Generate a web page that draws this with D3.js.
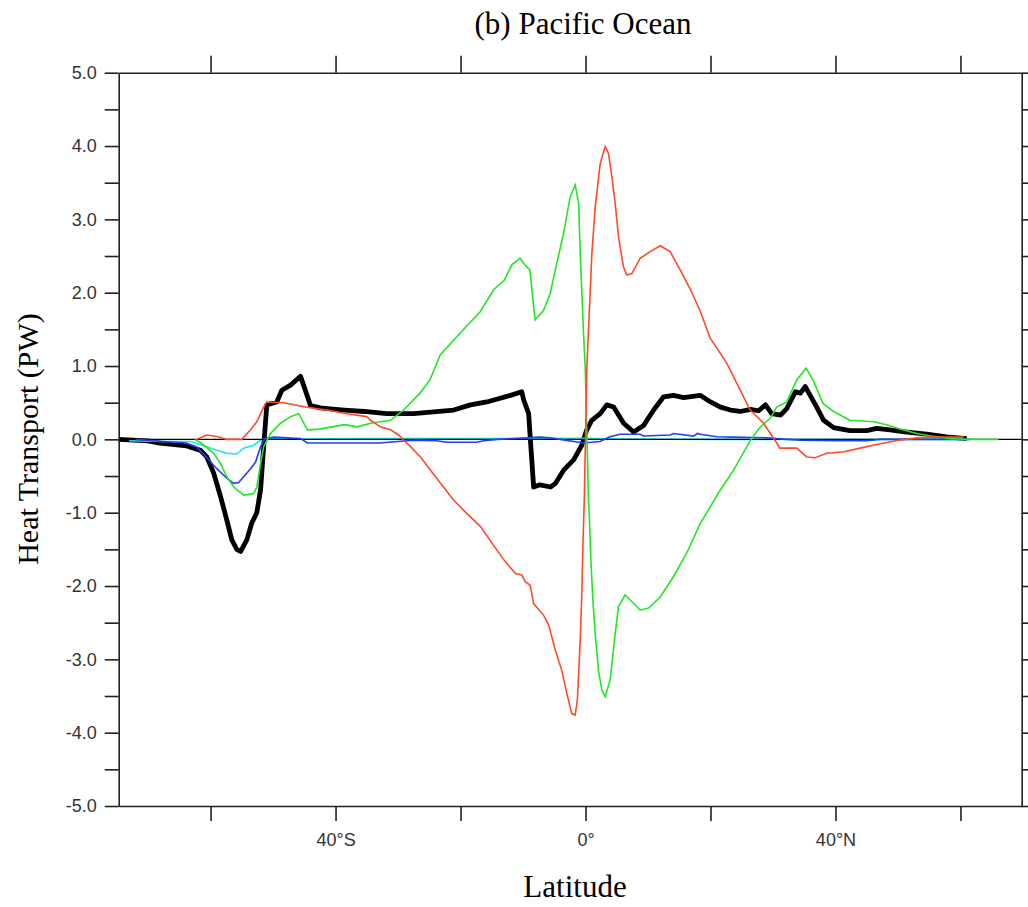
<!DOCTYPE html>
<html>
<head>
<meta charset="utf-8">
<script src="https://cdn.jsdelivr.net/npm/d3@7"></script>
<style>
  html, body { margin: 0; padding: 0; background: #fff; }
  svg { display: block; }
  .axis path, .axis line { stroke: #222; stroke-width: 1.6; }
  .axis text { font-family: "Liberation Sans", Arial, sans-serif; font-size: 18px; fill: #333; }
</style>
</head>
<body>
<svg id="chart" width="1028" height="907"></svg>
<script>
// Pacific Ocean meridional heat transport (PW) by latitude, per component.
// Each series: [latitude, transport]
const totalTransport = [
  [-74.7,0],[-70,-0.02],[-68.1,-0.05],[-63.8,-0.09],[-61.6,-0.15],[-60.6,-0.24],[-59.5,-0.46],
  [-58.4,-0.78],[-57.4,-1.10],[-56.6,-1.37],[-55.8,-1.50],[-55.2,-1.53],[-54.2,-1.37],[-53.4,-1.14],
  [-52.6,-1.0],[-52.0,-0.69],[-51.5,-0.10],[-51.0,0.47],[-49.4,0.51],[-48.6,0.67],[-47.2,0.74],
  [-45.6,0.86],[-44.0,0.46],[-42.4,0.43],[-41.3,0.42],[-38.6,0.40],[-35.4,0.38],[-31.8,0.35],
  [-27.5,0.35],[-21.1,0.40],[-18.4,0.47],[-15.8,0.51],[-12.0,0.60],[-10.2,0.65],[-9.9,0.54],
  [-9.1,0.35],[-8.85,0.03],[-8.3,-0.65],[-7.3,-0.62],[-5.6,-0.65],[-4.8,-0.60],[-3.5,-0.42],
  [-1.9,-0.28],[-0.6,-0.08],[0.2,0.13],[1.0,0.26],[2.35,0.35],[3.4,0.47],[4.5,0.44],[6.1,0.22],
  [7.7,0.10],[9.3,0.19],[10.9,0.40],[12.5,0.58],[14.1,0.60],[15.7,0.57],[18.35,0.60],[20.0,0.51],
  [21.6,0.44],[23.2,0.40],[24.75,0.38],[26.4,0.41],[27.7,0.39],[28.8,0.47],[29.8,0.35],[31.2,0.33],
  [32.2,0.42],[33.6,0.65],[34.4,0.63],[35.15,0.72],[35.95,0.60],[37.0,0.44],[38.1,0.26],[39.7,0.16],
  [42.3,0.12],[45.0,0.12],[46.6,0.15],[48.7,0.13],[51.4,0.10],[54.6,0.07],[57.8,0.035],[61.0,0.01]
];

const redTransport = [
  [-62.2,0],[-60.6,0.06],[-59.0,0.04],[-57.4,0.0],[-55.0,0.0],[-53.6,0.13],[-52.6,0.24],[-51.5,0.44],
  [-51.0,0.51],[-48.3,0.50],[-44.8,0.44],[-41.4,0.40],[-38.2,0.35],[-35.0,0.31],[-34.4,0.26],
  [-32.8,0.17],[-31.2,0.13],[-29.9,0.06],[-29.1,-0.01],[-28.0,-0.10],[-26.4,-0.24],[-24.8,-0.42],
  [-23.2,-0.60],[-21.1,-0.83],[-19.0,-1.01],[-16.8,-1.19],[-14.6,-1.46],[-13.0,-1.65],[-11.2,-1.83],
  [-10.2,-1.85],[-9.65,-1.94],[-8.85,-1.99],[-8.3,-2.24],[-6.7,-2.40],[-5.9,-2.53],[-4.85,-2.87],
  [-3.8,-3.15],[-3.0,-3.46],[-2.2,-3.74],[-1.65,-3.76],[-1.3,-3.55],[-0.85,-2.74],[-0.6,-2.15],
  [-0.42,-1.46],[-0.2,-0.83],[0.22,0.99],[1.02,2.54],[1.55,3.17],[2.35,3.76],[3.15,3.99],[3.68,3.90],
  [4.22,3.58],[4.75,3.22],[5.28,2.76],[6.08,2.35],[6.62,2.24],[7.42,2.26],[8.75,2.47],[10.35,2.56],
  [11.95,2.64],[13.55,2.56],[15.15,2.31],[16.75,2.05],[18.35,1.75],[19.95,1.38],[22.6,1.04],
  [24.75,0.67],[26.35,0.40],[28.5,0.22],[30.6,-0.05],[31.1,-0.12],[33.8,-0.12],[35.4,-0.24],
  [36.75,-0.25],[38.6,-0.19],[41.3,-0.17],[43.95,-0.12],[47.15,-0.06],[50.35,-0.01],[53.0,0.02],
  [55.7,0.03],[60.5,0.03]
];

const greenTransport = [
  [-62.5,0],[-61.5,-0.05],[-59.5,-0.19],[-58.4,-0.33],[-57.4,-0.51],[-56.3,-0.65],[-54.7,-0.76],
  [-53.1,-0.74],[-52.6,-0.65],[-52.0,-0.33],[-51.5,-0.10],[-50.4,0.08],[-48.8,0.22],[-47.2,0.31],
  [-45.9,0.35],[-44.5,0.13],[-42.6,0.14],[-40.5,0.17],[-38.6,0.20],[-36.5,0.17],[-34.4,0.22],
  [-31.2,0.26],[-29.1,0.40],[-26.5,0.63],[-24.9,0.81],[-23.25,1.15],[-20.05,1.45],[-16.85,1.74],
  [-14.7,2.04],[-13.0,2.17],[-11.8,2.38],[-10.5,2.47],[-9.7,2.38],[-8.9,2.31],[-8.3,1.81],
  [-8.05,1.63],[-6.7,1.76],[-5.65,1.99],[-4.6,2.40],[-3.5,2.81],[-2.45,3.31],[-1.65,3.47],
  [-1.1,3.22],[-0.85,2.54],[-0.58,1.99],[-0.32,1.45],[-0.05,0.99],[0.48,-0.83],[0.64,-1.10],
  [0.86,-1.65],[1.18,-2.19],[1.55,-2.65],[2.08,-3.15],[2.62,-3.42],[3.15,-3.51],[3.95,-3.28],
  [4.75,-2.65],[5.28,-2.28],[6.35,-2.12],[7.15,-2.19],[8.75,-2.33],[10.1,-2.30],[11.95,-2.15],
  [14.1,-1.87],[16.2,-1.55],[18.35,-1.15],[21.5,-0.70],[23.7,-0.42],[26.4,-0.01],[28.0,0.17],
  [29.6,0.29],[30.6,0.44],[32.2,0.51],[33.8,0.81],[35.3,0.97],[36.4,0.81],[38.0,0.49],[39.7,0.38],
  [42.3,0.26],[46.1,0.24],[48.2,0.20],[50.35,0.14],[53.0,0.08],[55.7,0.04],[58.4,0.01],[61.0,0],
  [66.1,0]
];

const blueTransport = [
  [-72.0,0],[-67.5,-0.03],[-63.9,-0.05],[-62.3,-0.10],[-60.7,-0.24],[-59.0,-0.40],[-57.4,-0.53],
  [-56.3,-0.60],[-55.5,-0.59],[-54.7,-0.51],[-53.6,-0.40],[-52.8,-0.31],[-52.0,-0.10],[-51.3,0.01],
  [-49.9,0.03],[-45.6,0.01],[-44.5,-0.05],[-33.0,-0.05],[-30.0,-0.03],[-27.5,-0.01],[-23.8,-0.02],
  [-22.2,-0.04],[-17.4,-0.04],[-16.3,-0.02],[-14.0,0],[-7.3,0.03],[-5.65,0.02],[-0.3,-0.05],
  [2.35,-0.03],[3.9,0.035],[5.5,0.07],[8.75,0.07],[9.3,0.045],[13.55,0.06],[14.1,0.08],[17.3,0.045],
  [17.9,0.08],[18.35,0.07],[21.0,0.035],[23.6,0.03],[29.0,0.02],[32.2,0],[34.4,-0.01],[40.8,-0.02],
  [45.0,-0.02],[47.1,0],[61.5,0]
];

const cyanTransport = [
  [-73.0,-0.02],[-67.5,-0.03],[-63.2,-0.03],[-60.6,-0.10],[-59.0,-0.15],[-57.4,-0.19],[-55.8,-0.20],
  [-54.7,-0.12],[-53.1,-0.08],[-52.0,-0.01],[-51.0,0.01],[-45.0,0.005],[-35.0,0.01],[-8.0,0.01],
  [-0.3,0.015],[5.0,0.005],[20.0,0],[40.0,0],[61.0,0]
];

const yTicks = d3.range(-5, 5.001, 0.5);
const xTicks = [-60, -40, -20, 0, 20, 40, 60];
const xTickLabels = { "-40": "40°S", "0": "0°", "40": "40°N" };

const svg = d3.select("#chart");
const plotLeft = 118.7, plotRight = 1021.7, plotTop = 72.7, plotBottom = 806;

const x = d3.scaleLinear().domain([-74.7, 69.8]).range([plotLeft, plotRight]);
const y = d3.scaleLinear().domain([-5, 5]).range([plotBottom, plotTop]);

svg.append("rect").attr("width", 1028).attr("height", 907).attr("fill", "#fff");

// data lines
const line = d3.line().x(d => x(d[0])).y(d => y(d[1]));
const plot = svg.append("g");

plot.append("path").datum(totalTransport)
  .attr("d", line).attr("fill", "none").attr("stroke", "#000")
  .attr("stroke-width", 4.8).attr("stroke-linejoin", "round");

plot.append("path").datum(cyanTransport)
  .attr("d", line).attr("fill", "none").attr("stroke", "#19e6f0").attr("stroke-width", 1.6);

// zero reference line
plot.append("line")
  .attr("x1", x(-74.7)).attr("x2", x(69.8))
  .attr("y1", y(0)).attr("y2", y(0))
  .attr("stroke", "#000").attr("stroke-width", 1.4);

plot.append("path").datum(blueTransport)
  .attr("d", line).attr("fill", "none").attr("stroke", "#2a3cf0").attr("stroke-width", 1.6);

plot.append("path").datum(greenTransport)
  .attr("d", line).attr("fill", "none").attr("stroke", "#22e622").attr("stroke-width", 1.6);

plot.append("path").datum(redTransport)
  .attr("d", line).attr("fill", "none").attr("stroke", "#ff4a2a").attr("stroke-width", 1.6);

// axes
svg.append("g").attr("class", "axis")
  .attr("transform", `translate(${plotLeft},0)`)
  .call(d3.axisLeft(y).tickValues(yTicks).tickSize(14).tickSizeOuter(0).tickPadding(8)
    .tickFormat(d => Math.abs(d % 1) < 1e-9 ? d.toFixed(1) : ""));

svg.append("g").attr("class", "axis")
  .attr("transform", `translate(${plotRight},0)`)
  .call(d3.axisRight(y).tickValues(yTicks).tickSize(14).tickSizeOuter(0).tickFormat(""));

svg.append("g").attr("class", "axis")
  .attr("transform", `translate(0,${plotBottom})`)
  .call(d3.axisBottom(x).tickValues(xTicks).tickSize(15).tickSizeOuter(0).tickPadding(12)
    .tickFormat(d => xTickLabels[String(d)] || ""));

svg.append("g").attr("class", "axis")
  .attr("transform", `translate(0,${plotTop})`)
  .call(d3.axisTop(x).tickValues(xTicks).tickSize(17).tickSizeOuter(0).tickFormat(""));

// titles
svg.append("text")
  .attr("x", 583).attr("y", 34).attr("text-anchor", "middle")
  .attr("font-family", "Liberation Serif, Times New Roman, serif").attr("font-size", 31)
  .attr("fill", "#000").text("(b) Pacific Ocean");

svg.append("text")
  .attr("x", 575).attr("y", 897).attr("text-anchor", "middle")
  .attr("font-family", "Liberation Serif, Times New Roman, serif").attr("font-size", 31)
  .attr("fill", "#000").text("Latitude");

svg.append("text")
  .attr("transform", "translate(38,439) rotate(-90)")
  .attr("text-anchor", "middle")
  .attr("font-family", "Liberation Serif, Times New Roman, serif").attr("font-size", 30)
  .attr("fill", "#000").text("Heat Transport (PW)");
</script>
</body>
</html>
